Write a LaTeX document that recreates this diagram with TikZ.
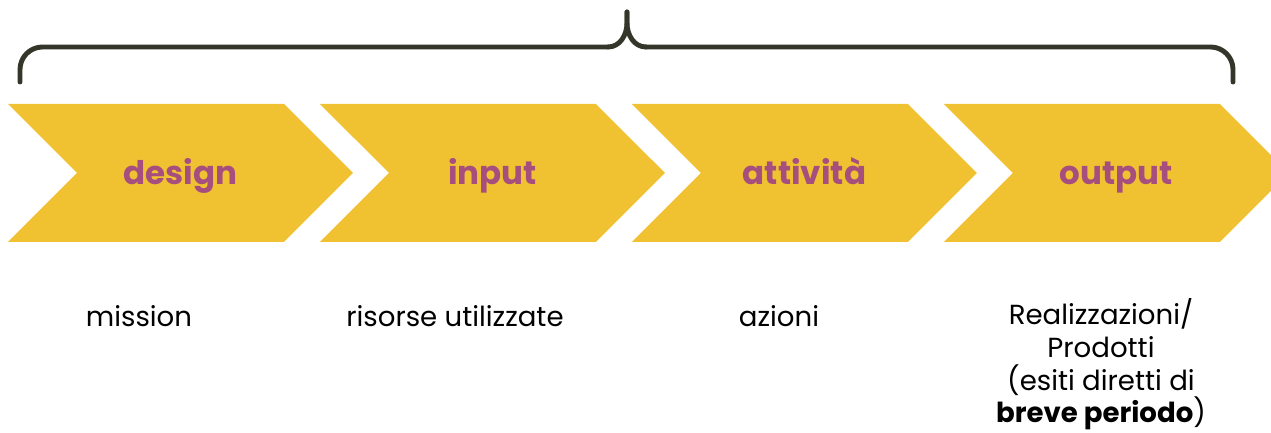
\documentclass[tikz,border=0pt]{standalone}
\usepackage{fontspec}
\setmainfont{Poppins}
\usepackage{tikz}
\usetikzlibrary{shapes.symbols, positioning}
\definecolor{chevyellow}{HTML}{F0C232}
\definecolor{labelpurple}{HTML}{A64F7E}
\definecolor{bracegray}{HTML}{34362A}
\tikzset {
    node distance=7mm,
    phase/.style={signal, signal to=east, signal from=west, signal pointer angle=90,
        fill=chevyellow, minimum width=6.9cm, minimum height=2.76cm, inner sep=0pt,
        text height=0.6cm, text depth=0.12cm,
        text=labelpurple, font=\fontsize{18.5}{22}\selectfont\bfseries},
    phasetext/.style={anchor=base, align=center, font=\fontsize{15.7}{18.6}\selectfont},
    bracepath/.style={draw=bracegray, line width=2.8pt, line cap=round}
}

\begin{document}
\begin{tikzpicture}
                \useasboundingbox (0,0) rectangle (25.42,8.66);
                \clip (0,0) rectangle (25.42,8.66);

                % chevrons
                \node[phase] (design) at (3.61,5.2) {design};
                \node[phase, right=of design] (input) {input};
                \node[phase, right=of input] (attivita) {attività};
                \node[phase, right=of attivita] (output) {output};

                % texts below
                \node[phasetext] (mission) at (2.78,2.12) {mission};
                \node[phasetext] (risorse) at (9.10,2.12) {risorse utilizzate};
                \node[phasetext] (azioni) at (15.58,2.12) {azioni};
                \node[phasetext] (prodotti) at (22.02,0.2) {Realizzazioni/\\Prodotti\\(esiti diretti di\\\textbf{breve periodo})};

                % brace
                \coordinate (brace west) at (0.40,7.02);
                \coordinate (brace top) at (12.54,8.42);
                \coordinate (brace east) at (24.66,7.02);
                \draw[bracepath, rounded corners=0.45cm] (brace west) |- (12.16,7.72);
                \draw[bracepath] (12.16,7.72) to[out=0, in=-90] (12.54,8.2) -- (brace top);
                \draw[bracepath] (brace top) -- (12.54,8.2) to[out=-90, in=180] (12.92,7.72);
                \draw[bracepath, rounded corners=0.45cm] (12.92,7.72) -| (brace east);
            \end{tikzpicture}
\end{document}
